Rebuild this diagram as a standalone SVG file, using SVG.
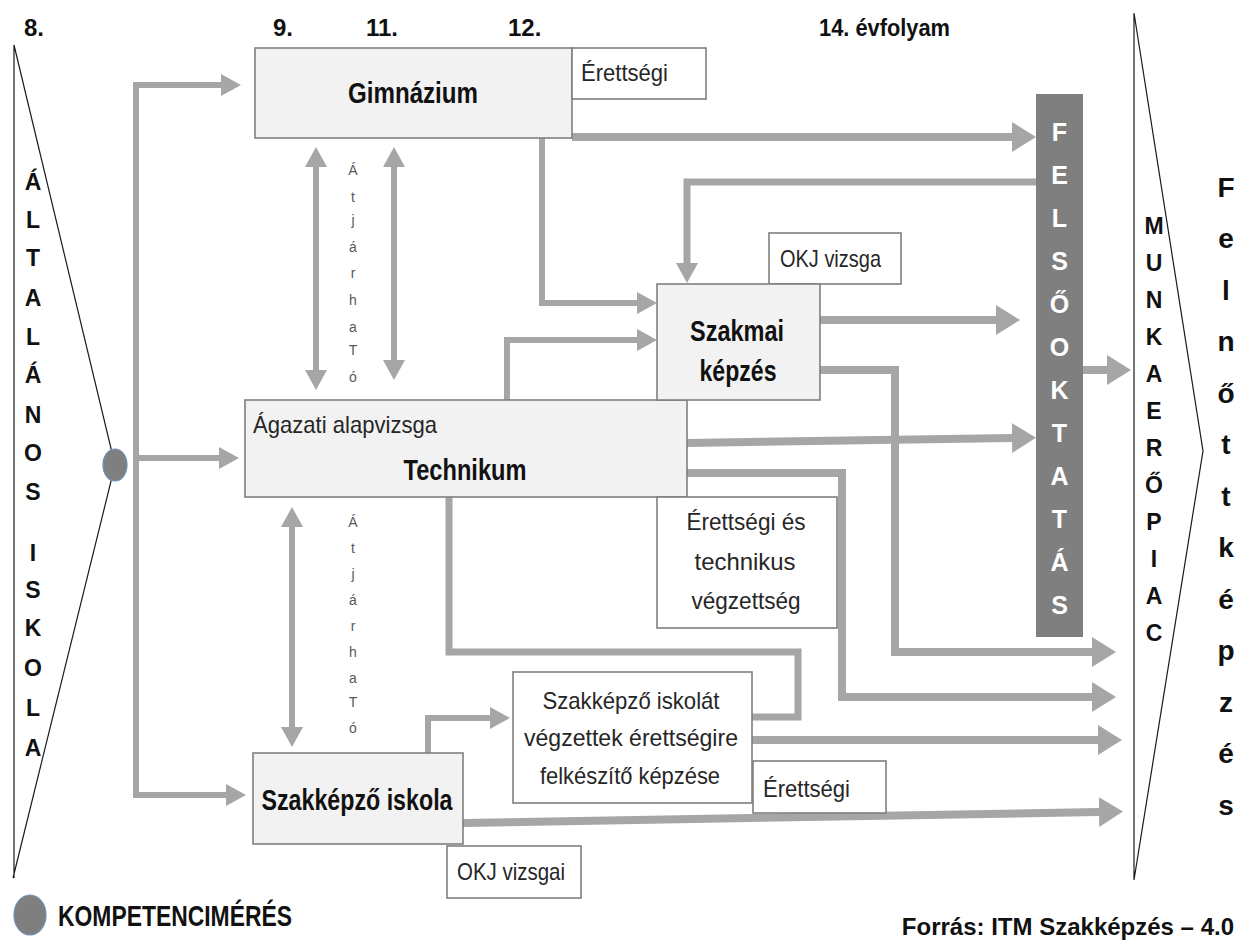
<svg xmlns="http://www.w3.org/2000/svg" width="1242" height="948" viewBox="0 0 1242 948">
<style>
text{font-family:"Liberation Sans",Arial,sans-serif;}
.hdr{font-size:24px;font-weight:bold;fill:#111;}
.title{font-size:29px;font-weight:bold;fill:#111;text-anchor:middle;}
.lbl{font-size:24px;fill:#262626;}
.lblc{font-size:24px;fill:#262626;text-anchor:middle;}
.vl{font-size:23px;font-weight:bold;fill:#111;text-anchor:middle;}
.vm{font-size:23px;font-weight:bold;fill:#111;text-anchor:middle;}
.vf{font-size:28px;font-weight:bold;fill:#111;text-anchor:middle;}
.fo{font-size:25px;font-weight:bold;fill:#fff;text-anchor:middle;}
.atj{font-size:14px;fill:#595959;text-anchor:middle;}
.box{fill:#f2f2f2;stroke:#7f7f7f;stroke-width:1.6;}
.wbox{fill:#fff;stroke:#7f7f7f;stroke-width:1.6;}
.thin{fill:none;stroke:#a6a6a6;stroke-width:6;}
.mid{fill:none;stroke:#a6a6a6;stroke-width:7;}
.thick{fill:none;stroke:#a6a6a6;stroke-width:8;}
.edge{fill:none;stroke:#1a1a1a;stroke-width:1.2;}
</style>
<defs>
<marker id="ah" markerUnits="userSpaceOnUse" markerWidth="24" markerHeight="30" refX="0" refY="15" orient="auto-start-reverse" viewBox="0 0 24 30"><path d="M0,0 L24,15 L0,30 z" fill="#a6a6a6"/></marker>
<marker id="as" markerUnits="userSpaceOnUse" markerWidth="20" markerHeight="22" refX="0" refY="11" orient="auto-start-reverse" viewBox="0 0 20 22"><path d="M0,0 L20,11 L0,22 z" fill="#a6a6a6"/></marker>
</defs>
<rect width="1242" height="948" fill="#fff"/>

<g id="headers">
<text class="hdr" x="24" y="36">8.</text>
<text class="hdr" x="273" y="36">9.</text>
<text class="hdr" x="366" y="36">11.</text>
<text class="hdr" x="508" y="36">12.</text>
<text class="hdr" x="819" y="36" textLength="131" lengthAdjust="spacingAndGlyphs">14. évfolyam</text>
</g>

<g id="altalanos-iskola">
<path class="edge" d="M14,45 V878 M14,45 L115,465 L13,878"/>
<text class="vl" x="33" y="190">Á</text>
<text class="vl" x="33" y="228">L</text>
<text class="vl" x="33" y="266">T</text>
<text class="vl" x="33" y="306">A</text>
<text class="vl" x="33" y="345">L</text>
<text class="vl" x="33" y="383">Á</text>
<text class="vl" x="33" y="423">N</text>
<text class="vl" x="33" y="461">O</text>
<text class="vl" x="33" y="500">S</text>
<text class="vl" x="33" y="561">I</text>
<text class="vl" x="33" y="598">S</text>
<text class="vl" x="33" y="636">K</text>
<text class="vl" x="33" y="676">O</text>
<text class="vl" x="33" y="716">L</text>
<text class="vl" x="33" y="756">A</text>
<ellipse cx="115" cy="465" rx="12" ry="16" fill="#7f7f7f" stroke="#6f8fb5" stroke-width="1.2"/>
</g>

<g id="munkaeropiac">
<path class="edge" d="M1134,13 V880 M1134,13 L1203,451 L1134,880"/>
<text class="vm" x="1154" y="234">M</text>
<text class="vm" x="1154" y="271">U</text>
<text class="vm" x="1154" y="308">N</text>
<text class="vm" x="1154" y="345">K</text>
<text class="vm" x="1154" y="382">A</text>
<text class="vm" x="1154" y="419">E</text>
<text class="vm" x="1154" y="456">R</text>
<text class="vm" x="1154" y="493">Ő</text>
<text class="vm" x="1154" y="530">P</text>
<text class="vm" x="1154" y="567">I</text>
<text class="vm" x="1154" y="604">A</text>
<text class="vm" x="1154" y="641">C</text>
</g>

<g id="felnottkepzes">
<text class="vf" x="1226" y="197">F</text>
<text class="vf" x="1226" y="248">e</text>
<text class="vf" x="1226" y="300">l</text>
<text class="vf" x="1226" y="351">n</text>
<text class="vf" x="1226" y="403">ő</text>
<text class="vf" x="1226" y="454">t</text>
<text class="vf" x="1226" y="506">t</text>
<text class="vf" x="1226" y="557">k</text>
<text class="vf" x="1226" y="609">é</text>
<text class="vf" x="1226" y="660">p</text>
<text class="vf" x="1226" y="712">z</text>
<text class="vf" x="1226" y="763">é</text>
<text class="vf" x="1226" y="815">s</text>
</g>

<g id="connectors">
<path class="thin" d="M221,85 H136 V795 H226" marker-start="url(#as)" marker-end="url(#as)"/>
<path class="thin" d="M136,458 H219" marker-end="url(#as)"/>
<path class="thin" d="M316,167 V370" marker-start="url(#as)" marker-end="url(#as)"/>
<path class="thin" d="M394,167 V360" marker-start="url(#as)" marker-end="url(#as)"/>
<path class="thin" d="M292,527 V727" marker-start="url(#as)" marker-end="url(#as)"/>
<path class="thin" d="M542,138 V303 H637" marker-end="url(#as)"/>
<path class="mid" d="M1036,182 H687 V263" marker-end="url(#as)"/>
<path class="thin" d="M507,400 V340 H637" marker-end="url(#as)"/>
<path class="mid" d="M449,497 V652 H798 V717 H752"/>
<path class="thin" d="M428,753 V718 H490" marker-end="url(#as)"/>
<path class="thick" d="M572,137 H1012" marker-end="url(#ah)"/>
<path class="thick" d="M820,320 H996" marker-end="url(#ah)"/>
<path class="thick" d="M820,370 H895 V652 H1092" marker-end="url(#ah)"/>
<path class="thick" d="M1083,370 H1107" marker-end="url(#ah)"/>
<path class="thick" d="M687,443 L1012,438" marker-end="url(#ah)"/>
<path class="thick" d="M687,473 H842 V697 H1092" marker-end="url(#ah)"/>
<path class="thick" d="M752,740 H1098" marker-end="url(#ah)"/>
<path class="thick" d="M463,823 L1099,812" marker-end="url(#ah)"/>
</g>

<g id="atjarhato-1">
<text class="atj" x="353" y="175">Á</text>
<text class="atj" x="353" y="202">t</text>
<text class="atj" x="353" y="225">j</text>
<text class="atj" x="353" y="252">á</text>
<text class="atj" x="353" y="278">r</text>
<text class="atj" x="353" y="305">h</text>
<text class="atj" x="353" y="332">a</text>
<text class="atj" x="353" y="355">T</text>
<text class="atj" x="353" y="382">ó</text>
</g>
<g id="atjarhato-2">
<text class="atj" x="353" y="527">Á</text>
<text class="atj" x="353" y="553">t</text>
<text class="atj" x="353" y="579">j</text>
<text class="atj" x="353" y="605">á</text>
<text class="atj" x="353" y="631">r</text>
<text class="atj" x="353" y="657">h</text>
<text class="atj" x="353" y="683">a</text>
<text class="atj" x="353" y="707">T</text>
<text class="atj" x="353" y="733">ó</text>
</g>

<g id="gimnazium">
<rect class="box" x="255" y="48" width="317" height="90"/>
<text class="title" x="413" y="103" textLength="130" lengthAdjust="spacingAndGlyphs">Gimnázium</text>
</g>
<g id="erettsegi-1">
<rect class="wbox" x="572" y="48" width="134" height="51"/>
<text class="lbl" x="581" y="81" textLength="87" lengthAdjust="spacingAndGlyphs">Érettségi</text>
</g>
<g id="felsooktatas">
<rect x="1036" y="94" width="47" height="543" fill="#7f7f7f"/>
<text class="fo" x="1059.5" y="141">F</text>
<text class="fo" x="1059.5" y="184">E</text>
<text class="fo" x="1059.5" y="227">L</text>
<text class="fo" x="1059.5" y="270">S</text>
<text class="fo" x="1059.5" y="313">Ő</text>
<text class="fo" x="1059.5" y="356">O</text>
<text class="fo" x="1059.5" y="399">K</text>
<text class="fo" x="1059.5" y="442">T</text>
<text class="fo" x="1059.5" y="485">A</text>
<text class="fo" x="1059.5" y="528">T</text>
<text class="fo" x="1059.5" y="571">Á</text>
<text class="fo" x="1059.5" y="614">S</text>
</g>
<g id="okj-vizsga">
<rect class="wbox" x="769" y="233" width="132" height="51"/>
<text class="lbl" x="780" y="267" textLength="101" lengthAdjust="spacingAndGlyphs">OKJ vizsga</text>
</g>
<g id="technikum">
<rect class="box" x="245" y="400" width="442" height="97"/>
<text class="lbl" x="253" y="433" textLength="184" lengthAdjust="spacingAndGlyphs">Ágazati alapvizsga</text>
<text class="title" x="465" y="480" textLength="123" lengthAdjust="spacingAndGlyphs">Technikum</text>
</g>
<g id="szakmai-kepzes">
<rect class="box" x="657" y="284" width="163" height="116"/>
<text class="title" x="737" y="341" textLength="94" lengthAdjust="spacingAndGlyphs">Szakmai</text>
<text class="title" x="738" y="381" textLength="77" lengthAdjust="spacingAndGlyphs">képzés</text>
</g>
<g id="erettsegi-technikus">
<rect class="wbox" x="657" y="497" width="180" height="131"/>
<text class="lblc" x="746" y="530" textLength="119" lengthAdjust="spacingAndGlyphs">Érettségi és</text>
<text class="lblc" x="745" y="570" textLength="101" lengthAdjust="spacingAndGlyphs">technikus</text>
<text class="lblc" x="746" y="609" textLength="109" lengthAdjust="spacingAndGlyphs">végzettség</text>
</g>
<g id="szakkepzo-erettsegire">
<rect class="wbox" x="513" y="672" width="239" height="131"/>
<text class="lblc" x="631" y="709" textLength="177" lengthAdjust="spacingAndGlyphs">Szakképző iskolát</text>
<text class="lblc" x="631" y="746" textLength="214" lengthAdjust="spacingAndGlyphs">végzettek érettségire</text>
<text class="lblc" x="630" y="784" textLength="180" lengthAdjust="spacingAndGlyphs">felkészítő képzése</text>
</g>
<g id="erettsegi-2">
<rect class="wbox" x="753" y="761" width="133" height="52"/>
<text class="lbl" x="763" y="797" textLength="87" lengthAdjust="spacingAndGlyphs">Érettségi</text>
</g>
<g id="szakkepzo-iskola">
<rect class="box" x="253" y="753" width="210" height="91"/>
<text class="title" x="357" y="810" textLength="191" lengthAdjust="spacingAndGlyphs">Szakképző iskola</text>
</g>
<g id="okj-vizsgai">
<rect class="wbox" x="447" y="846" width="134" height="52"/>
<text class="lbl" x="457" y="880" textLength="108" lengthAdjust="spacingAndGlyphs">OKJ vizsgai</text>
</g>

<g id="legend">
<ellipse cx="30" cy="915" rx="16" ry="20" fill="#7f7f7f" stroke="#6f8fb5" stroke-width="1.2"/>
<text x="58" y="926" font-size="30" font-weight="bold" fill="#111" textLength="234" lengthAdjust="spacingAndGlyphs">KOMPETENCIMÉRÉS</text>
</g>
<g id="source">
<text x="1234" y="935" text-anchor="end" font-size="24" font-weight="bold" fill="#111">Forrás: ITM Szakképzés – 4.0</text>
</g>
</svg>
